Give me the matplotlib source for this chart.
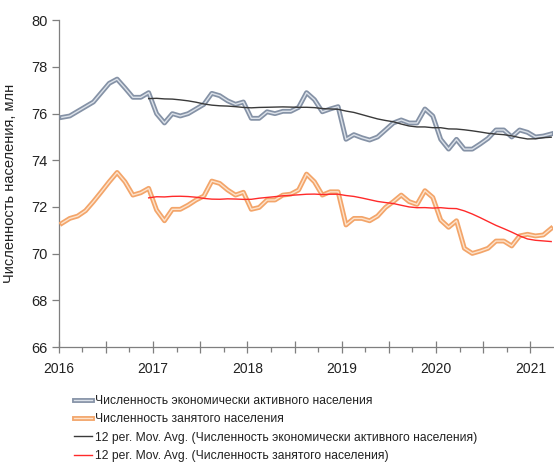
import numpy as np
import pandas as pd
import matplotlib
matplotlib.use("Agg")
import matplotlib.pyplot as plt
import matplotlib.patheffects as pe
from matplotlib.lines import Line2D
from matplotlib.ticker import MultipleLocator, FuncFormatter

plt.rcParams['font.family'] = ['Liberation Sans', 'DejaVu Sans']

# Monthly data, Jan 2016 .. Mar 2021 (million people)
active = [75.84, 75.9, 76.1, 76.3, 76.5, 76.9, 77.3, 77.48, 77.1, 76.7, 76.7, 76.9,
          76.0, 75.6, 76.0, 75.9, 76.0, 76.2, 76.4, 76.87, 76.77, 76.55, 76.4, 76.5,
          75.8, 75.8, 76.08, 76.0, 76.1, 76.1, 76.27, 76.9, 76.6, 76.08, 76.2, 76.3,
          74.9, 75.1, 74.97, 74.87, 75.0, 75.3, 75.6, 75.73, 75.6, 75.6, 76.2, 75.9,
          74.9, 74.48, 74.9, 74.48, 74.48, 74.7, 74.94, 75.3, 75.3, 75.0, 75.3, 75.2,
          75.0, 75.04, 75.13]
employed = [71.3, 71.51, 71.61, 71.84, 72.23, 72.65, 73.08, 73.48, 73.08, 72.51, 72.61, 72.8,
            71.87, 71.41, 71.9, 71.9, 72.08, 72.3, 72.47, 73.11, 73.01, 72.73, 72.51, 72.63,
            71.9, 71.98, 72.3, 72.3, 72.51, 72.55, 72.73, 73.41, 73.08, 72.51, 72.65, 72.65,
            71.23, 71.51, 71.51, 71.41, 71.61, 71.98, 72.23, 72.51, 72.23, 72.11, 72.7, 72.41,
            71.44, 71.13, 71.41, 70.23, 70.01, 70.11, 70.23, 70.54, 70.54, 70.33, 70.76, 70.83,
            70.76, 70.8, 71.08]
start_year = 2016
year_ticks = [2016, 2017, 2018, 2019, 2020, 2021]

label_active = "Численность экономически активного населения"
label_employed = "Численность занятого населения"
label_ma_active = "12 per. Mov. Avg. (Численность экономически активного населения)"
label_ma_employed = "12 per. Mov. Avg. (Численность занятого населения)"

# decimal-year positions of monthly observations
x = start_year + (np.arange(len(active)) + 0.4) / 12.0 * 1.004

ma_active = pd.Series(active).rolling(12).mean()
ma_employed = pd.Series(employed).rolling(12).mean()

fig = plt.figure(figsize=(5.54, 4.65), dpi=100)
ax = fig.add_axes([58.7/554, (465-347)/465, (553-58.7)/554, (347-20.3)/465])

gray_out, gray_in = "#8592A6", "#DCE2EA"
orng_out, orng_in = "#F3A56A", "#FDE3CC"

ax.plot(x, active, color=gray_in, lw=1.0, zorder=3,
        path_effects=[pe.Stroke(linewidth=3.5, foreground=gray_out), pe.Normal()])
ax.plot(x, employed, color=orng_in, lw=1.0, zorder=3,
        path_effects=[pe.Stroke(linewidth=3.5, foreground=orng_out), pe.Normal()])
ax.plot(x, ma_active, color="#3a3a3a", lw=1.0, zorder=4)
ax.plot(x, ma_employed, color="#FF2A2A", lw=1.0, zorder=4)

ax.set_xlim(2016, 2021.24)
ax.set_ylim(66, 80)
ax.yaxis.set_major_locator(MultipleLocator(2))
ax.xaxis.set_major_locator(MultipleLocator(0.5))
ax.xaxis.set_minor_locator(MultipleLocator(0.25))
ax.xaxis.set_major_formatter(FuncFormatter(
    lambda v, p: f"{int(round(v))}" if int(round(v)) in year_ticks and abs(v - round(v)) < 1e-6 else ""))

for s in ["top", "right"]:
    ax.spines[s].set_visible(False)
for s in ["left", "bottom"]:
    ax.spines[s].set_color("#7f7f7f")
    ax.spines[s].set_linewidth(0.9)

ax.tick_params(axis="y", length=5, width=0.9, color="#7f7f7f", labelsize=10.5, labelcolor="#222222", pad=3)
ax.tick_params(axis="x", which="major", direction="inout", length=9, width=0.9, color="#7f7f7f",
               labelsize=10, labelcolor="#222222", pad=6)
ax.tick_params(axis="x", which="minor", direction="out", length=3.5, width=0.9, color="#7f7f7f")

ax.set_ylabel("Численность населения, млн", fontsize=10.5, color="#222222", labelpad=10)

handles = [
    Line2D([], [], color=gray_in, lw=1.0, path_effects=[pe.Stroke(linewidth=3.5, foreground=gray_out), pe.Normal()]),
    Line2D([], [], color=orng_in, lw=1.0, path_effects=[pe.Stroke(linewidth=3.5, foreground=orng_out), pe.Normal()]),
    Line2D([], [], color="#3a3a3a", lw=1.0),
    Line2D([], [], color="#FF2A2A", lw=1.0),
]
leg = fig.legend(handles, [label_active, label_employed, label_ma_active, label_ma_employed],
                 loc="upper left", bbox_to_anchor=(74/554, (465-395)/465), frameon=False,
                 fontsize=8.7, handlelength=1.5, handletextpad=0.2, labelspacing=0.52,
                 borderaxespad=0, borderpad=0)
for t in leg.get_texts():
    t.set_color("#222222")

fig.savefig("out.png", dpi=100)
